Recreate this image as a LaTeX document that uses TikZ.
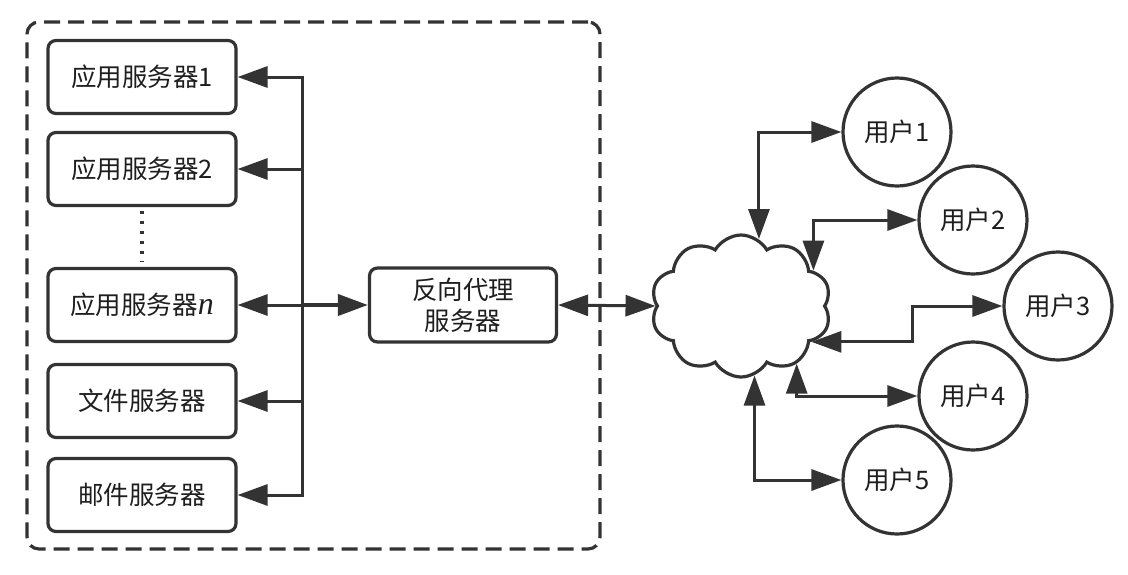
\documentclass[tikz,border=0pt]{standalone}
\usepackage{fontspec}
\setmainfont{Noto Sans CJK SC}
\newfontfamily\timesf{Liberation Serif}
\usetikzlibrary{arrows.meta,shapes.symbols,calc}
\definecolor{ink}{HTML}{333333}
\definecolor{txt}{HTML}{1E1E1E}
\begin{document}
\begin{tikzpicture}[x=1pt,y=-1pt,
  lbl/.style={text=txt, font=\fontsize{25.5pt}{33pt}\selectfont},
  box/.style={lbl, draw=ink, line width=3.2pt, rounded corners=8pt, minimum width=188pt, minimum height=73pt, inner sep=0pt},
  user/.style={lbl, draw=ink, line width=3.2pt, circle, minimum size=108pt, inner sep=0pt},
  conn/.style={draw=ink, line width=3pt},
  tip/.style={-{Triangle[length=30pt,width=21pt]}},
  bi/.style={{Triangle[length=30pt,width=21pt]}-{Triangle[length=30pt,width=21pt]}},
  frame/.style={draw=ink, line width=3.2pt, dash pattern=on 16pt off 8pt, rounded corners=12pt},
  dots/.style={draw=ink, line width=3.2pt, dash pattern=on 3pt off 7pt}
  ]
\useasboundingbox (0,0) rectangle (1128,574);
% outer dashed frame
\node[frame, minimum width=573pt, minimum height=527pt] (frame) at (313.5,285.5) {};
% servers
\node[box] (s1) at (142,77) {应用服务器1};
\node[box] (s2) at (142,169) {应用服务器2};
\node[box] (sn) at (142,305) {应用服务器{\timesf\itshape\fontsize{32pt}{33pt}\selectfont n}};
\node[box] (sf) at (142,401) {文件服务器};
\node[box] (sm) at (142,495) {邮件服务器};
\draw[dots, shorten <=4pt, shorten >=5pt] (s2.south) -- (sn.north);
% proxy
\node[box, minimum width=187pt, minimum height=74pt, align=center] (proxy) at (463,305) {反向代理\\[-2pt]服务器};
% bus
\coordinate (bus) at (302,305);
\draw[conn, tip] (bus) |- (s1.east);
\draw[conn, tip] (bus) |- (s2.east);
\draw[conn, tip] (bus) -- (sn.east);
\draw[conn, tip] (bus) |- (sf.east);
\draw[conn, tip] (bus) |- (sm.east);
\draw[conn, tip, line width=4pt] (bus) -- (proxy.west);
% cloud
\node[cloud, draw=ink, line width=3.2pt, cloud puffs=10, cloud puff arc=120, aspect=1.27, minimum width=180pt, minimum height=142pt, inner sep=0pt] (cloud) at (741,306) {};
\draw[conn, bi] (proxy.east) -- (cloud.west);
% users
\node[user] (u1) at (897,132) {用户1};
\node[user] (u2) at (973,220) {用户2};
\node[user] (u3) at (1058,306) {用户3};
\node[user] (u4) at (973,396) {用户4};
\node[user] (u5) at (897,480) {用户5};
\draw[conn, bi] (cloud.75) |- (u1.west);
\draw[conn, bi] (cloud.26) |- (u2.west);
\draw[conn, bi] (cloud.-27) -| ($(u3.west)+(-90,0)$) -- (u3.west);
\draw[conn, bi] (cloud.-46) |- (u4.west);
\draw[conn, bi] (cloud.-79) |- (u5.west);
\end{tikzpicture}
\end{document}
